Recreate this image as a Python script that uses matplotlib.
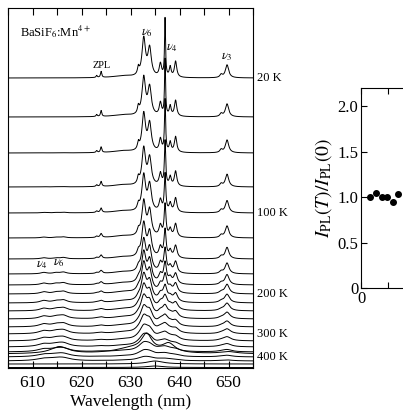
import numpy as np
import matplotlib
matplotlib.use("Agg")
import matplotlib.pyplot as plt

plt.rcParams['font.family'] = ['Liberation Serif', 'DejaVu Serif']
plt.rcParams['mathtext.fontset'] = 'stix'

# ---------------- data ----------------
# Stokes peaks at 20 K: position (nm), height (px-units), intrinsic HWHM (nm)
peak_pos = [623.1, 624.0, 631.6, 632.7, 633.9, 636.1, 637.05, 638.1, 639.2, 648.5, 649.7]
peak_amp = [2.0, 6.0, 7.0, 38.0, 28.0, 13.0, 58.0, 10.0, 16.0, 3.0, 13.0]
peak_hw = [0.15, 0.15, 0.2, 0.42, 0.42, 0.28, 0.12, 0.22, 0.28, 0.3, 0.4]
# anti-Stokes peaks (appear at higher T)
as_pos = [612.3, 614.8, 616.3]
as_amp = [1.0, 0.8, 1.2]
# broad hump
hump_pos = [628.5]
hump_amp = [2.0]
hump_hw = [2.5]

temps = [20, 40, 60, 80, 100, 120, 140, 160, 180, 200, 220, 240, 260, 280, 300, 320, 340, 360, 380, 400]
offsets = [290, 251, 215, 181, 155, 130, 109, 94, 83, 74, 65, 57, 49, 41, 34, 27, 21, 16, 11, 7]
thermal_hw = [0.0, 0.03, 0.06, 0.1, 0.14, 0.18, 0.22, 0.27, 0.32, 0.38, 0.45, 0.52, 0.6, 0.68, 0.77, 0.87, 0.98, 1.1, 1.25, 1.4]
as_scale = [0.0, 0.0, 0.1, 0.2, 0.5, 0.8, 1.1, 1.4, 1.7, 2.0, 2.2, 2.4, 2.6, 2.7, 2.8, 2.8, 2.7, 2.5, 2.2, 2.0]
int_scale = [1.0, 1.0, 1.0, 1.0, 1.0, 1.0, 1.0, 1.0, 1.0, 1.0, 0.98, 0.95, 0.9, 0.85, 0.8, 0.72, 0.62, 0.5, 0.38, 0.25]

# extra broad curve crossing at bottom
broad_offset = 14
broad_pos = [615.5, 630.0, 633.3, 637.8, 650.0]
broad_amp = [7.0, 5.0, 17.0, 9.0, 2.0]
broad_hw = [2.2, 4.0, 1.3, 1.6, 2.0]
# lowest curves
low_offsets = [4, 0.5]
low_amp = [3.0, 1.5]
low_pos = [635.0, 635.0]
low_hw = [2.0, 2.0]

label_texts = ['20 K', '100 K', '200 K', '300 K', '400 K']
label_offsets = [290, 155, 74, 34, 11]

dot_T = [17, 27, 38, 48, 59, 69]
dot_ratio = [1.0, 1.05, 1.0, 1.0, 0.95, 1.03]


def lor(x, c, a, w):
    return a * w**2 / ((x - c)**2 + w**2)


# ---------------- figure ----------------
fig = plt.figure(figsize=(4.03, 4.12), dpi=100)
W, H = 403, 412
ax = fig.add_axes([8 / W, (H - 368) / H, 245 / W, 360 / H])

x = np.linspace(605, 655, 3000)
for i, T in enumerate(temps):
    y = np.zeros_like(x)
    for c, a, w0 in zip(peak_pos, peak_amp, peak_hw):
        w = np.hypot(w0, thermal_hw[i])
        y += lor(x, c, a * w0 / w * int_scale[i], w)
    for c, a in zip(as_pos, as_amp):
        y += lor(x, c, a * as_scale[i], 0.5 + thermal_hw[i])
    for c, a, w in zip(hump_pos, hump_amp, hump_hw):
        y += lor(x, c, a * int_scale[i], w)
    ax.plot(x, y + offsets[i], color='black', lw=0.7)

yb = np.zeros_like(x)
for c, a, w in zip(broad_pos, broad_amp, broad_hw):
    yb += lor(x, c, a, w)
ax.plot(x, yb + broad_offset, color='black', lw=0.7)

for o, a, c, w in zip(low_offsets, low_amp, low_pos, low_hw):
    ax.plot(x, lor(x, c, a, w) + o, color='black', lw=0.7)

ax.set_xlim(605, 655)
ax.set_ylim(0, 360)
ax.set_xticks([610, 620, 630, 640, 650])
ax.set_xticks(np.arange(605, 656, 5), minor=True)
ax.tick_params(axis='x', which='both', direction='in', top=True, bottom=True,
               length=5, width=0.8, labelsize=12.5, pad=5)
ax.set_yticks([])
ax.set_xlabel('Wavelength (nm)', fontsize=12.5, labelpad=2)

ax.text(607.4, 336, r'BaSiF$_6$:Mn$^{4+}$', fontsize=9, va='center', ha='left')
ax.text(633.4, 335, r'$\nu_6$', fontsize=9, ha='center', va='center')
ax.text(638.5, 320, r'$\nu_4$', fontsize=9, ha='center', va='center')
ax.text(649.6, 311, r'$\nu_3$', fontsize=9, ha='center', va='center')
ax.text(624.1, 303, 'ZPL', fontsize=7.5, ha='center', va='center')
ax.text(611.9, 103, r'$\nu_4$', fontsize=9, ha='center', va='center')
ax.text(615.5, 105, r'$\nu_6$', fontsize=9, ha='center', va='center')

for t, o in zip(label_texts, label_offsets):
    ax.text(655.8, o, t, fontsize=9, ha='left', va='center', clip_on=False)

# right panel
ax2 = fig.add_axes([361 / W, (H - 288) / H, 270 / W, 200 / H])
ax2.plot(dot_T, dot_ratio, 'o', color='black', ms=4)
ax2.set_xlim(0, 500)
ax2.set_ylim(0, 2.2)
ax2.set_yticks([0, 0.5, 1.0, 1.5, 2.0])
ax2.set_yticklabels(['0', '0.5', '1.0', '1.5', '2.0'])
ax2.set_xticks([0, 100, 200, 300, 400, 500])
ax2.set_xticklabels(['0', '', '', '', '', ''])
ax2.set_xticks([50, 150, 250, 350, 450], minor=True)
ax2.tick_params(axis='both', which='both', direction='in', top=True, right=True,
                length=4, width=0.8, labelsize=12, pad=2)
ax2.set_ylabel(r'$I_{\rm PL}(T)/I_{\rm PL}(0)$', fontsize=14, labelpad=2)

fig.savefig('out.png', dpi=100)
